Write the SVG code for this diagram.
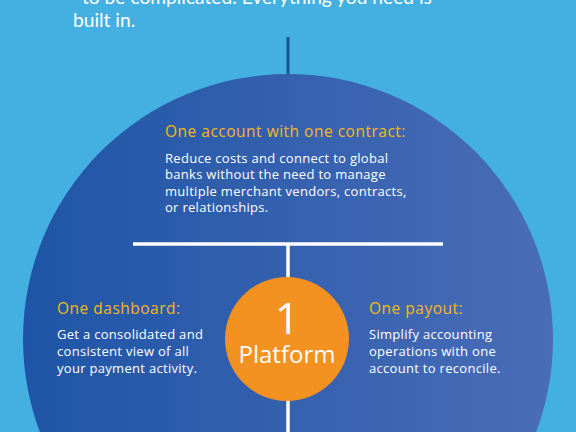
<svg xmlns="http://www.w3.org/2000/svg" width="576" height="432" viewBox="0 0 576 432">
<defs>
<linearGradient id="big" x1="0" y1="0" x2="1" y2="0">
<stop offset="0" stop-color="#1f55a6"/>
<stop offset="1" stop-color="#4a6db7"/>
</linearGradient>
<style>
text{font-family:"Open Sans","Liberation Sans",sans-serif;}
.h{fill:#f7b719;font-size:15.5px;letter-spacing:0.5px;}
.b{fill:#ffffff;font-size:13px;letter-spacing:0.3px;}
.top{fill:#ffffff;font-size:19.2px;font-family:"Lato","Open Sans",sans-serif;}
.w{stroke:#ffffff;stroke-width:3.5;fill:none;}
</style>
</defs>
<rect width="576" height="432" fill="#44b0e1"/>
<text class="top" x="82" y="4">to be complicated. Everything you need is</text>
<text class="top" x="73" y="27">built in.</text>
<g id="connectors">
<line x1="288" y1="37" x2="288" y2="76" stroke="#1d4fa0" stroke-width="3"/>
</g>
<g id="main-circle">
<circle cx="288" cy="339" r="265" fill="url(#big)"/>
</g>
<g id="connectors-inner">
<line class="w" x1="133" y1="244" x2="443" y2="244"/>
<line class="w" x1="288" y1="244" x2="288" y2="432"/>
</g>
<g id="account">
<text class="h" x="165" y="137">One account with one contract:</text>
<text class="b" x="165" y="163">Reduce costs and connect to global</text>
<text class="b" x="165" y="179">banks without the need to manage</text>
<text class="b" x="165" y="196">multiple merchant vendors, contracts,</text>
<text class="b" x="165" y="212">or relationships.</text>
</g>
<g id="dashboard">
<text class="h" x="57" y="314">One dashboard:</text>
<text class="b" x="57" y="339">Get a consolidated and</text>
<text class="b" x="57" y="356">consistent view of all</text>
<text class="b" x="57" y="373">your payment activity.</text>
</g>
<g id="payout">
<text class="h" x="369" y="314">One payout:</text>
<text class="b" x="369" y="339">Simplify accounting</text>
<text class="b" x="369" y="356">operations with one</text>
<text class="b" x="369" y="373">account to reconcile.</text>
</g>
<g id="platform">
<circle cx="287" cy="339" r="62" fill="#f39121"/>
<text x="287" y="334" text-anchor="middle" fill="#ffffff" font-size="43" font-family="Lato,sans-serif">1</text>
<text x="287" y="363" text-anchor="middle" fill="#ffffff" font-size="24" font-family="Lato,sans-serif">Platform</text>
</g>
</svg>
